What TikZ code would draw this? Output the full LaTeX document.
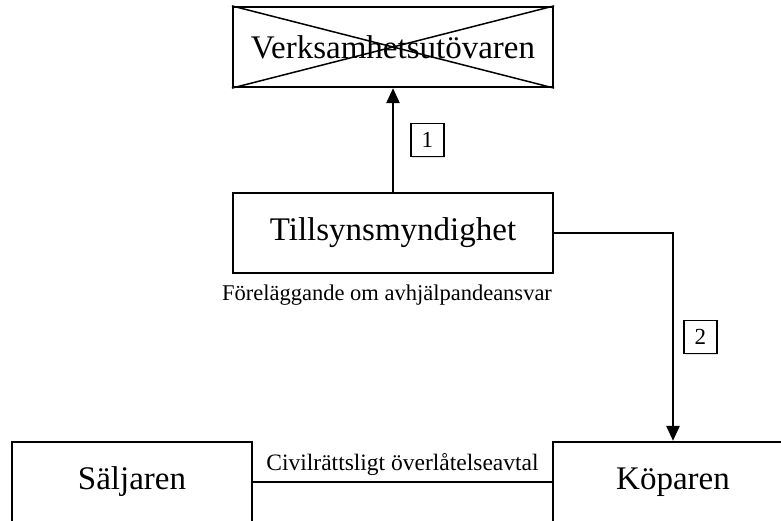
\documentclass[tikz,border=0pt]{standalone}
\usepackage{fontspec}
\setmainfont{Liberation Serif}
\usetikzlibrary{arrows.meta,positioning,shadows}

\tikzset{
  party/.style={draw, line width=2.2pt, minimum height=80pt, font=\fontsize{33}{40}\selectfont},
  numbox/.style={draw, line width=1.8pt, minimum size=33pt, inner sep=0pt, fill=white,
    font=\fontsize{23}{26}\selectfont,
    drop shadow={opacity=0.25, shadow xshift=1.5pt, shadow yshift=-1.5pt}},
  link/.style={line width=2.4pt},
  arr/.style={link, -{Triangle[length=15pt,width=13pt]}}
}

\begin{document}
\begin{tikzpicture}[x=1pt,y=-1pt]
  \clip (0,0) rectangle (781,520);
  \useasboundingbox (0,0) rectangle (781,520);
  \def \Parties {
    verks/393/47/320/Verksamhetsutövaren,
    tillsyn/393/233/320/Tillsynsmyndighet,
    saljare/132/482/240/Säljaren,
    kopare/673/482/240/Köparen}

  \foreach \id / \x / \y / \w / \txt in \Parties {
    \node[party, minimum width=\w pt] (\id) at (\x, \y) {\txt};
  }
  % struck out
  \draw[line width=1.5pt] (verks.north west) -- (verks.south east)
    (verks.south west) -- (verks.north east);

  \node[below=7pt of tillsyn.south, xshift=-6pt, font=\fontsize{22.5}{26}\selectfont] (forelagg)
    {Föreläggande om avhjälpandeansvar};

  \draw[arr] (tillsyn) -- (verks) node[midway, right=17pt, numbox] (n1) {1};
  \draw[arr] (tillsyn.east) -| (kopare.north) node[pos=0.75, right=10pt, numbox] (n2) {2};
  \draw[link] (saljare) -- (kopare)
    node[midway, above=2pt, font=\fontsize{23.5}{26}\selectfont] (avtal) {Civilrättsligt överlåtelseavtal};
\end{tikzpicture}
\end{document}
